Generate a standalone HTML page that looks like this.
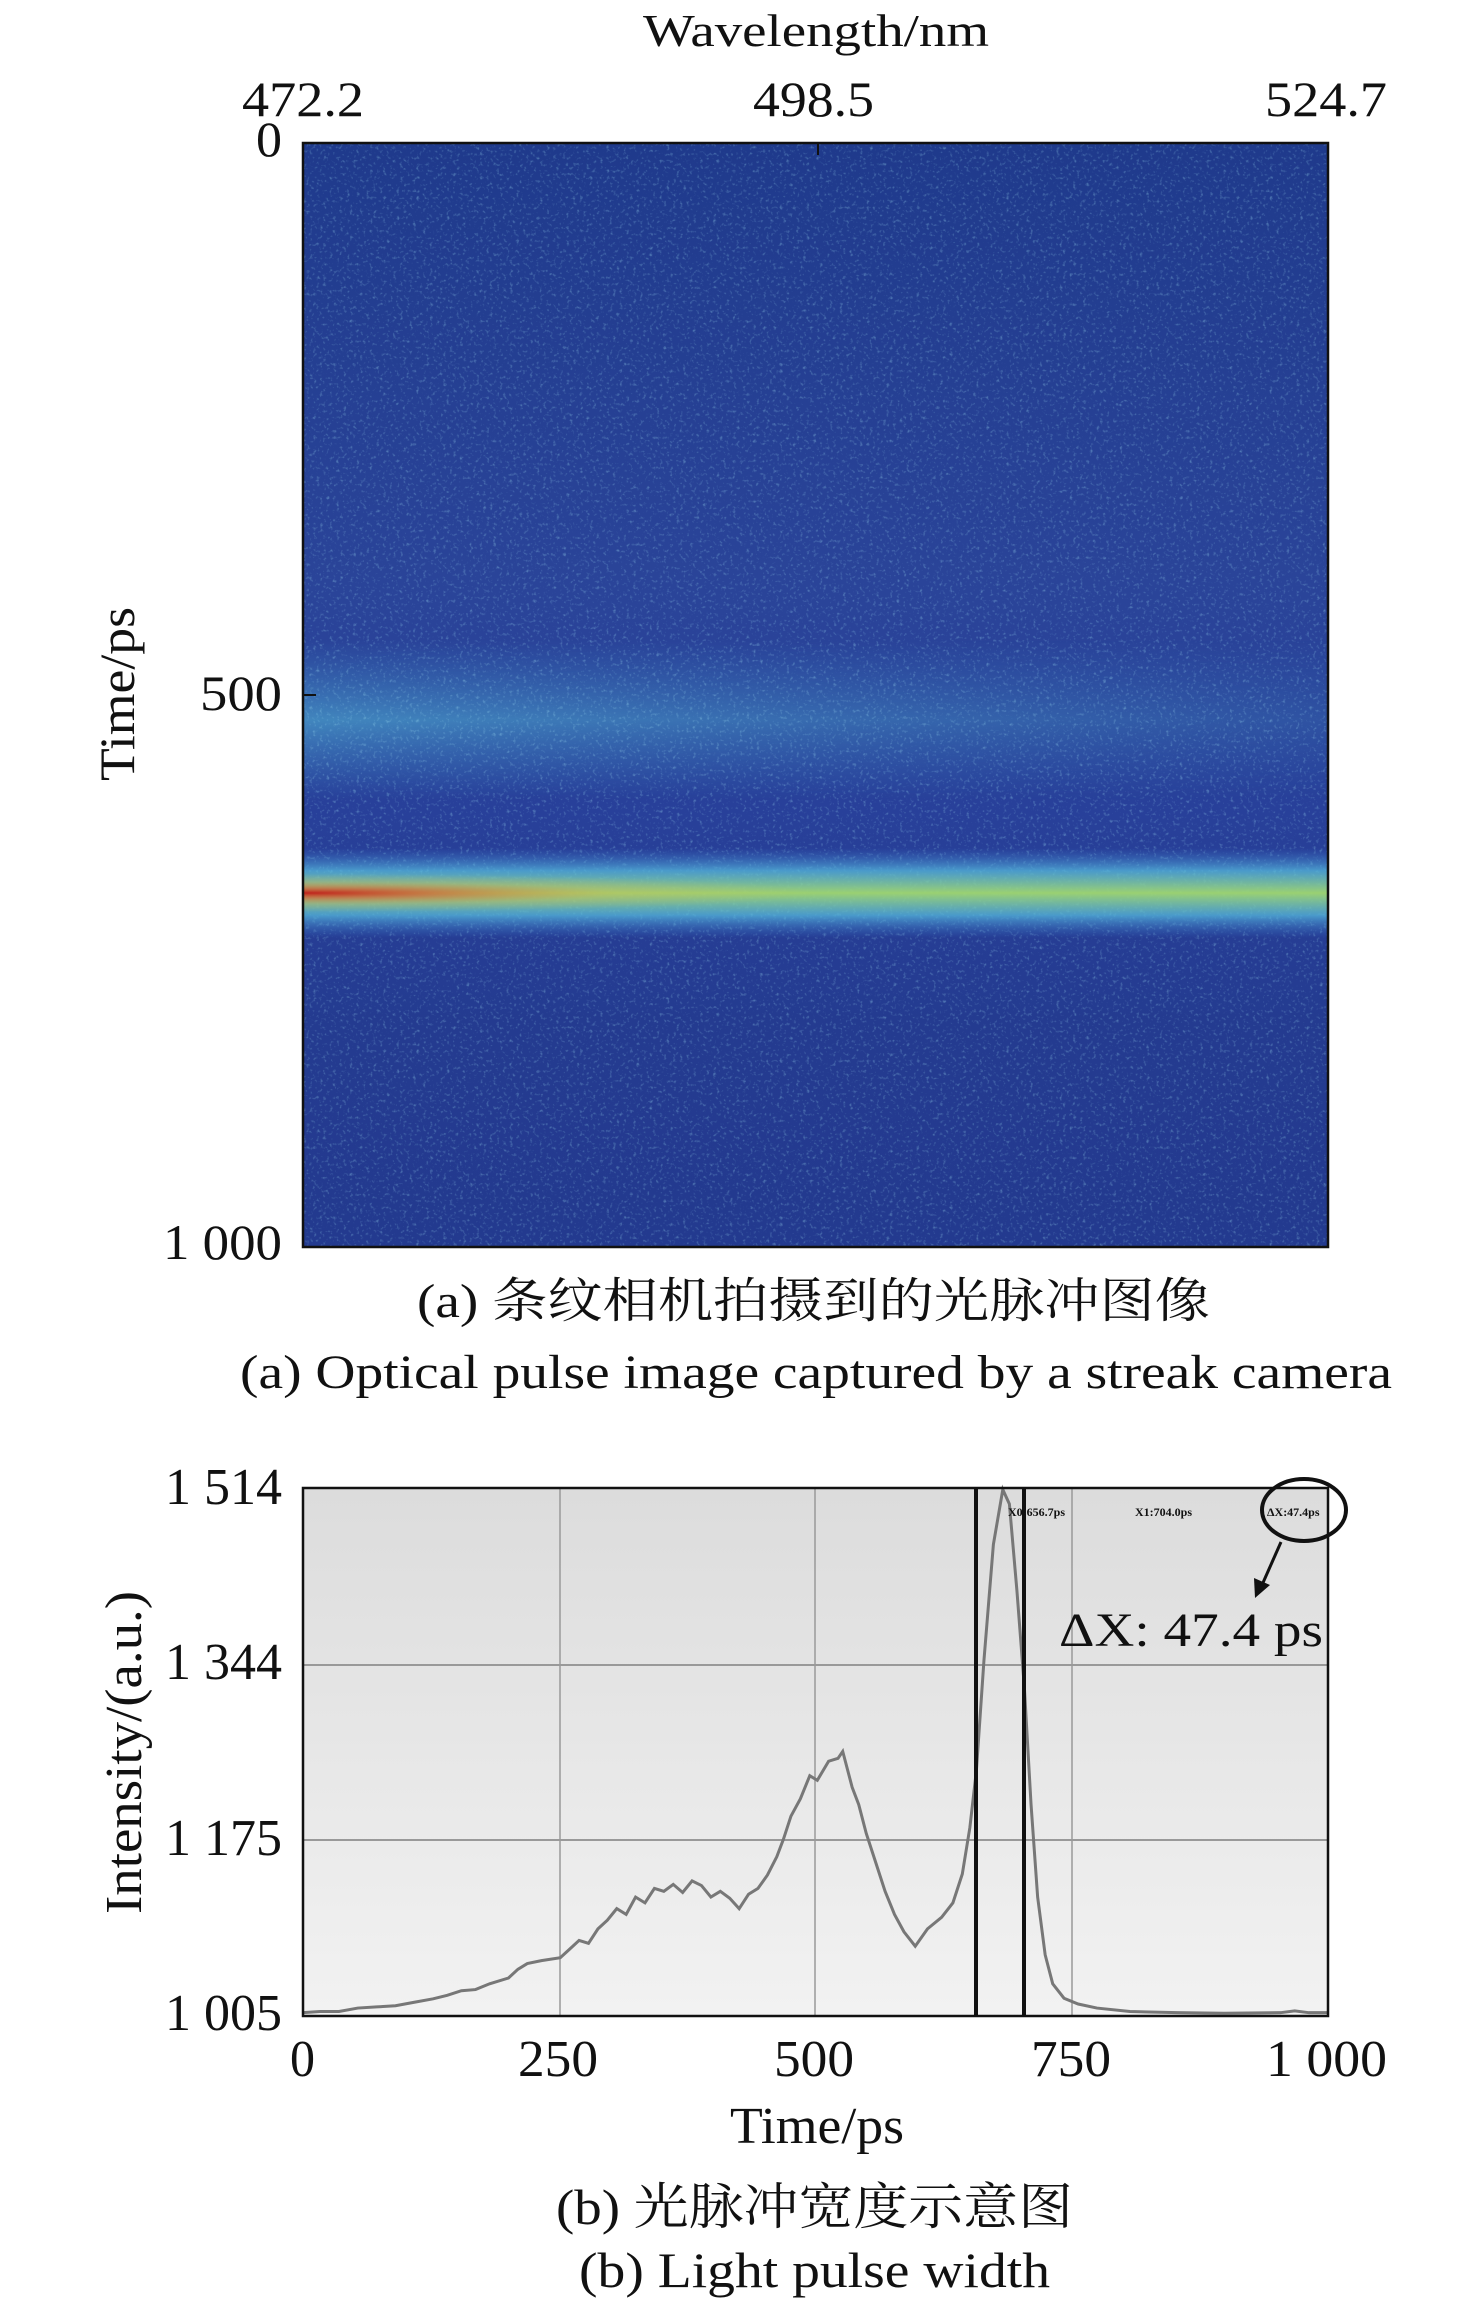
<!DOCTYPE html>
<html><head><meta charset="utf-8"><style>
html,body{margin:0;padding:0;background:#fff;}
svg{display:block;}
text{font-family:"Liberation Serif","Noto Serif CJK SC","Noto Sans CJK SC",serif;fill:#111;}
</style></head><body>
<svg width="1476" height="2306" viewBox="0 0 1476 2306" xmlns="http://www.w3.org/2000/svg">
<defs>
<linearGradient id="bandMain" x1="0" y1="0" x2="0" y2="1">
<stop offset="0" stop-color="#3f7ed0" stop-opacity="0"/>
<stop offset="0.25" stop-color="#55b8dc" stop-opacity="0.75"/>
<stop offset="0.5" stop-color="#a0d870" stop-opacity="0.95"/>
<stop offset="0.75" stop-color="#55b8dc" stop-opacity="0.75"/>
<stop offset="1" stop-color="#3f7ed0" stop-opacity="0"/>
</linearGradient>
<radialGradient id="redR" cx="0" cy="0.5" r="1" gradientTransform="translate(0,0.5) scale(1,0.5) translate(0,-0.5)">
<stop offset="0" stop-color="#c01818" stop-opacity="0.95"/>
<stop offset="0.25" stop-color="#e04a28" stop-opacity="0.6"/>
<stop offset="0.6" stop-color="#e8b040" stop-opacity="0.25"/>
<stop offset="1" stop-color="#e8c040" stop-opacity="0"/>
</radialGradient>
<linearGradient id="bandUp" x1="0" y1="0" x2="0" y2="1">
<stop offset="0" stop-color="#4aa6d8" stop-opacity="0"/>
<stop offset="0.5" stop-color="#56c0dc" stop-opacity="0.55"/>
<stop offset="1" stop-color="#4aa6d8" stop-opacity="0"/>
</linearGradient>
<linearGradient id="fadeH" x1="0" y1="0" x2="1" y2="0">
<stop offset="0" stop-color="#fff" stop-opacity="1"/>
<stop offset="0.5" stop-color="#fff" stop-opacity="0.6"/>
<stop offset="1" stop-color="#fff" stop-opacity="0.25"/>
</linearGradient>
<mask id="upMask"><rect x="303" y="600" width="1025" height="230" fill="url(#fadeH)"/></mask>
<linearGradient id="bgV" x1="0" y1="0" x2="0" y2="1">
<stop offset="0" stop-color="#1f3a8c"/>
<stop offset="0.4" stop-color="#2a4499"/>
<stop offset="0.6" stop-color="#28409a"/>
<stop offset="0.8" stop-color="#243b90"/>
<stop offset="1" stop-color="#233a8f"/>
</linearGradient>
<linearGradient id="plotBg" x1="0" y1="0" x2="0" y2="1">
<stop offset="0" stop-color="#dcdcdc"/>
<stop offset="1" stop-color="#f2f2f2"/>
</linearGradient>
<filter id="noise" filterUnits="userSpaceOnUse" x="303" y="143" width="1025" height="1104"><feTurbulence type="fractalNoise" baseFrequency="0.3" numOctaves="2" seed="3"/><feColorMatrix values="0 0 0 0 0.35  0 0 0 0 0.75  0 0 0 0 0.9  0 0 0 3 -1.7"/></filter>
</defs>

<!-- Heatmap -->
<rect x="303" y="143" width="1025" height="1104" fill="url(#bgV)"/>
<rect x="303" y="640" width="1025" height="160" fill="url(#bandUp)" mask="url(#upMask)"/>
<rect x="303" y="143" width="1025" height="1104" filter="url(#noise)" opacity="0.35"/>
<rect x="303" y="848" width="1025" height="90" fill="url(#bandMain)"/>
<rect x="303" y="874" width="520" height="38" fill="url(#redR)"/>
<rect x="303" y="143" width="1025" height="1104" fill="none" stroke="#111" stroke-width="2.5"/>
<line x1="818" y1="143" x2="818" y2="155" stroke="#111" stroke-width="2"/>
<line x1="303" y1="695" x2="316" y2="695" stroke="#111" stroke-width="2"/>

<text x="643" y="46" font-size="46" textLength="346" lengthAdjust="spacingAndGlyphs">Wavelength/nm</text>
<text x="242" y="116" font-size="50" textLength="122" lengthAdjust="spacingAndGlyphs">472.2</text>
<text x="753" y="116" font-size="50" textLength="121" lengthAdjust="spacingAndGlyphs">498.5</text>
<text x="1265" y="116" font-size="50" textLength="122" lengthAdjust="spacingAndGlyphs">524.7</text>
<text x="256" y="156" font-size="50" textLength="26" lengthAdjust="spacingAndGlyphs">0</text>
<text x="200" y="710" font-size="50" textLength="82" lengthAdjust="spacingAndGlyphs">500</text>
<text x="163" y="1259" font-size="50" textLength="119" lengthAdjust="spacingAndGlyphs">1 000</text>
<text transform="translate(134,781) rotate(-90)" font-size="50" textLength="174" lengthAdjust="spacingAndGlyphs">Time/ps</text>
<text x="417" y="1317" font-size="48" textLength="793" lengthAdjust="spacingAndGlyphs">(a) 条纹相机拍摄到的光脉冲图像</text>
<text x="240" y="1388" font-size="48" textLength="1152" lengthAdjust="spacingAndGlyphs">(a) Optical pulse image captured by a streak camera</text>

<!-- Plot b -->
<rect x="303" y="1488" width="1025" height="528" fill="url(#plotBg)"/>
<g stroke="#999" stroke-width="2">
<line x1="303" y1="1665" x2="1328" y2="1665"/>
<line x1="303" y1="1840" x2="1328" y2="1840"/>
<line x1="560" y1="1488" x2="560" y2="2016" stroke-width="1.5"/>
<line x1="815" y1="1488" x2="815" y2="2016" stroke-width="1.5"/>
<line x1="1072" y1="1488" x2="1072" y2="2016" stroke-width="1.5"/>
</g>
<g transform="translate(0,1400) scale(0.9416,0.578)">
<polyline fill="none" stroke="#777" stroke-width="3" vector-effect="non-scaling-stroke" points="322,1060 340,1058 360,1058 380,1052 400,1050 420,1048 440,1042 460,1036 475,1030 490,1022 505,1020 520,1010 540,1000 550,985 560,975 575,970 595,965 605,950 615,935 625,940 635,915 645,900 655,880 665,890 675,860 685,870 695,845 705,850 715,838 725,852 735,832 745,840 755,860 765,850 775,862 785,880 795,855 805,845 815,822 825,790 832,760 840,720 850,690 860,650 868,658 880,625 890,620 895,608 905,670 912,700 920,750 930,800 940,850 950,890 960,920 972,945 985,915 1000,895 1012,870 1022,820 1030,740 1037,640 1045,450 1055,250 1065,155 1072,180 1080,330 1088,500 1095,700 1102,860 1110,960 1118,1010 1130,1035 1145,1045 1165,1052 1200,1058 1250,1060 1300,1061 1360,1060 1375,1057 1390,1060 1410,1060"/>
</g>
<line x1="976" y1="1488" x2="976" y2="2016" stroke="#111" stroke-width="4"/>
<line x1="1024" y1="1488" x2="1024" y2="2016" stroke="#111" stroke-width="4"/>
<rect x="303" y="1488" width="1025" height="528" fill="none" stroke="#111" stroke-width="2.5"/>
<text x="1008" y="1516" font-size="12" font-weight="bold" fill="#333">X0:656.7ps</text>
<text x="1135" y="1516" font-size="12" font-weight="bold" fill="#333">X1:704.0ps</text>
<text x="1267" y="1516" font-size="12" font-weight="bold" fill="#333">ΔX:47.4ps</text>
<ellipse cx="1304" cy="1510" rx="42" ry="31" fill="none" stroke="#111" stroke-width="4"/>
<line x1="1281" y1="1542" x2="1262" y2="1585" stroke="#111" stroke-width="3"/>
<polygon points="1255,1598 1254,1578 1270,1585" fill="#111"/>
<text x="1059" y="1646" font-size="48" textLength="264" lengthAdjust="spacingAndGlyphs">ΔX: 47.4 ps</text>

<text x="165" y="1504" font-size="52" textLength="117" lengthAdjust="spacingAndGlyphs">1 514</text>
<text x="165" y="1679" font-size="52" textLength="117" lengthAdjust="spacingAndGlyphs">1 344</text>
<text x="165" y="1855" font-size="52" textLength="117" lengthAdjust="spacingAndGlyphs">1 175</text>
<text x="165" y="2030" font-size="52" textLength="117" lengthAdjust="spacingAndGlyphs">1 005</text>
<text x="290" y="2076" font-size="52" textLength="25" lengthAdjust="spacingAndGlyphs">0</text>
<text x="518" y="2076" font-size="52" textLength="80" lengthAdjust="spacingAndGlyphs">250</text>
<text x="774" y="2076" font-size="52" textLength="80" lengthAdjust="spacingAndGlyphs">500</text>
<text x="1031" y="2076" font-size="52" textLength="80" lengthAdjust="spacingAndGlyphs">750</text>
<text x="1266" y="2076" font-size="52" textLength="121" lengthAdjust="spacingAndGlyphs">1 000</text>
<text x="730" y="2143" font-size="52" textLength="174" lengthAdjust="spacingAndGlyphs">Time/ps</text>
<text transform="translate(141,1914) rotate(-90)" font-size="52" textLength="323" lengthAdjust="spacingAndGlyphs">Intensity/(a.u.)</text>
<text x="556" y="2224" font-size="50" textLength="517" lengthAdjust="spacingAndGlyphs">(b) 光脉冲宽度示意图</text>
<text x="579" y="2287" font-size="50" textLength="471" lengthAdjust="spacingAndGlyphs">(b) Light pulse width</text>
</svg>
</body></html>
